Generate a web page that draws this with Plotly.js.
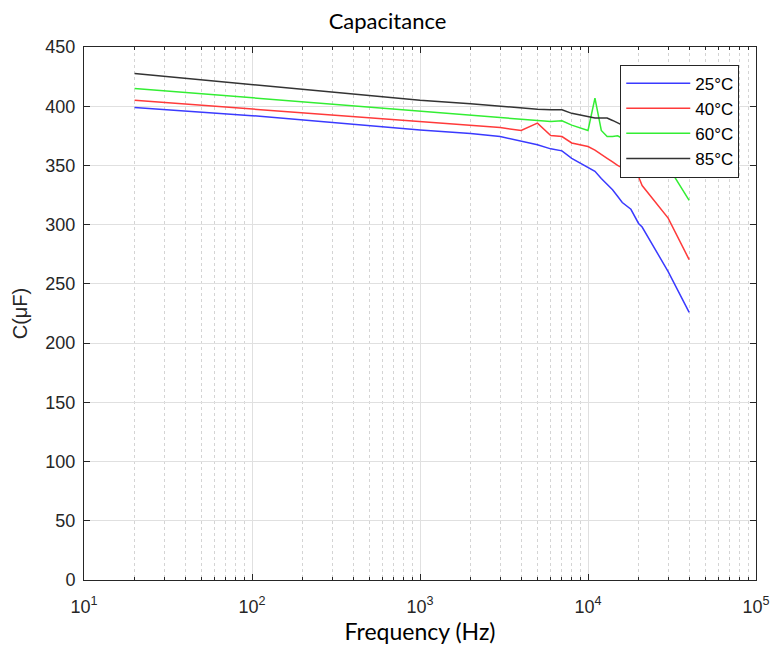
<!DOCTYPE html>
<html>
<head>
<meta charset="utf-8">
<script src="https://cdn.plot.ly/plotly-3.0.1.min.js"></script>
<style>html,body{margin:0;padding:0;background:#fff;}#chart{width:775px;height:657px;}</style>
</head>
<body>
<div id="chart"></div>
<script>
const freq = [20, 100, 1000, 2000, 3000, 4000, 5000, 6000, 7000, 8000, 10000, 11000, 12000, 13000, 14000, 15000, 16000, 18000, 20000, 21000, 30000, 40000];
const c25 = [399, 392, 380, 377, 374.4, 370.8, 367.4, 364, 362.3, 356, 348.5, 345, 339, 334, 329.5, 324, 318.7, 313, 301, 298, 260.4, 226];
const c40 = [405, 397.6, 387.3, 383.7, 382, 379.5, 385.7, 375.3, 374.4, 369, 366, 363, 359, 356, 353, 350, 348, 344, 340.5, 333, 305.5, 270.5];
const c60 = [415, 407.3, 396, 392.5, 390.5, 389, 388, 387, 387.7, 384, 379.5, 406.8, 379.5, 374.4, 374.5, 375, 373, 370, 366, 363, 349, 320.5];
const c85 = [427.6, 418.5, 405, 402, 399.8, 398.5, 397.5, 397, 397, 394, 391.3, 390, 390, 390, 388, 386, 384, 382, 380, 379, 372, 365];
const names = ['25°C', '40°C', '60°C', '85°C'];
const colors = ['#3a3aff', '#ff3a3a', '#33ee33', '#333333'];
const series = [c25, c40, c60, c85];
const xTickVals = [10, 100, 1000, 10000, 100000];
const xTickText = ['10<sup>1</sup>', '10<sup>2</sup>', '10<sup>3</sup>', '10<sup>4</sup>', '10<sup>5</sup>'];

const traces = series.map((s, i) => ({
  x: freq, y: s, type: 'scatter', mode: 'lines', name: names[i],
  line: {color: colors[i], width: 1.5}
}));

const tickFont = {family: 'Liberation Sans, Arial, sans-serif', size: 18, color: '#262626'};
const layout = {
  width: 775, height: 657,
  margin: {l: 84, r: 19, t: 47, b: 77},
  paper_bgcolor: '#fff', plot_bgcolor: '#fff',
  title: {text: 'Capacitance', font: {family: 'Lato, sans-serif', size: 22, color: '#000'}, x: 0.5, xanchor: 'center', y: 0.968, yanchor: 'middle'},
  xaxis: {
    type: 'log', range: [1, 5], tickmode: 'array', tickvals: xTickVals, ticktext: xTickText,
    showline: true, linecolor: '#262626', linewidth: 1, mirror: 'allticks',
    ticks: 'inside', ticklen: 6, tickcolor: '#262626', ticklabelstandoff: 10,
    showgrid: true, gridcolor: '#e0e0e0', gridwidth: 1,
    minor: {dtick: 'D1', ticks: 'inside', ticklen: 3, tickcolor: '#262626', showgrid: true, gridcolor: '#d4d4d4', griddash: 'dot', gridwidth: 1},
    tickfont: tickFont, zeroline: false,
    title: {text: 'Frequency (Hz)', font: {family: 'Lato, sans-serif', size: 23, color: '#000'}, standoff: 6}
  },
  yaxis: {
    range: [0, 450], dtick: 50,
    showline: true, linecolor: '#262626', linewidth: 1, mirror: 'allticks',
    ticks: 'inside', ticklen: 6, tickcolor: '#262626', ticklabelstandoff: 4,
    showgrid: true, gridcolor: '#e0e0e0', gridwidth: 1,
    tickfont: tickFont, zeroline: false,
    title: {text: 'C(μF)', font: {family: 'Liberation Sans, Arial, sans-serif', size: 20, color: '#262626'}, standoff: 12}
  },
  legend: {
    x: 0.798, y: 0.967, xanchor: 'left', yanchor: 'top',
    bgcolor: '#fff', bordercolor: '#262626', borderwidth: 1,
    font: {family: 'Liberation Sans, Arial, sans-serif', size: 17, color: '#000'},
    tracegroupgap: 0, itemwidth: 64
  },
  showlegend: true
};
Plotly.newPlot('chart', traces, layout, {displayModeBar: false, staticPlot: true});
</script>
</body>
</html>
